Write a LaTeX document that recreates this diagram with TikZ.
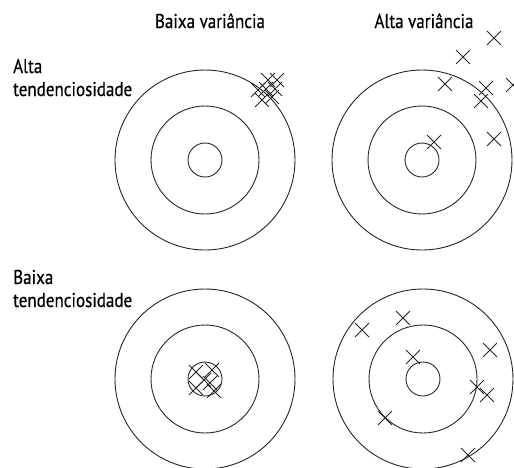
\documentclass[tikz,border=0pt]{standalone}
\usepackage{fontspec}
\setmainfont[FakeStretch=0.85, FakeBold=0.4]{PT Sans}
\usetikzlibrary{shapes.misc}
\tikzset{
  ring/.style={line width=0.9pt, draw=black!85},
  hit/.style={cross out, draw=black!85, line width=0.9pt, minimum size=13pt, inner sep=0pt},
  lbl/.style={font=\fontsize{20}{23}\selectfont, inner sep=0pt}
}

\begin{document}
\begin{tikzpicture}[x=1pt, y=-1pt]
\useasboundingbox (0,0) rectangle (514,467);
% headings
\node[lbl, anchor=base] (lowvar) at (210,28) {Baixa variância};
\node[lbl, anchor=base] (highvar) at (424,28) {Alta variância};
\node[lbl, anchor=base west] (highbias1) at (13,73) {Alta};
\node[lbl, anchor=base west] (highbias2) at (13,96) {tendenciosidade};
\node[lbl, anchor=base west] (lowbias1) at (13,284) {Baixa};
\node[lbl, anchor=base west] (lowbias2) at (13,307) {tendenciosidade};
% targets
\coordinate (tl) at (205,160);
\coordinate (tr) at (422,160);
\coordinate (bl) at (205,379);
\coordinate (br) at (423,379);
\foreach \c in {tl,tr,bl,br} {
  \draw[ring] (\c) circle[radius=90pt];
  \draw[ring] (\c) circle[radius=54pt];
  \draw[ring] (\c) circle[radius=17pt];
}
% top left: high bias, low variance
\node[hit] (a1) at (258,90) {};
\node[hit] (a2) at (268,80) {};
\node[hit] (a3) at (275,89) {};
\node[hit] (a4) at (262,100) {};
\node[hit] (a5) at (272,97) {};
\node[hit] (a6) at (266,89) {};
\node[hit] (a7) at (277,80) {};
% top right: high bias, high variance
\node[hit] (b1) at (494,38) {};
\node[hit] (b2) at (463,57) {};
\node[hit] (b3) at (445,84) {};
\node[hit] (b4) at (486,88) {};
\node[hit] (b5) at (481,101) {};
\node[hit] (b6) at (513,85) {};
\node[hit] (b7) at (494,139) {};
\node[hit] (b8) at (434,142) {};
% bottom left: low bias, low variance
\node[hit] (c1) at (196,372) {};
\node[hit] (c2) at (212,370) {};
\node[hit] (c3) at (204,380) {};
\node[hit] (c4) at (196,388) {};
\node[hit] (c5) at (214,391) {};
\node[hit] (c6) at (210,383) {};
% bottom right: low bias, high variance
\node[hit] (d1) at (403,318) {};
\node[hit] (d2) at (362,330) {};
\node[hit] (d3) at (490,350) {};
\node[hit] (d4) at (413,357) {};
\node[hit] (d5) at (477,387) {};
\node[hit] (d6) at (487,395) {};
\node[hit] (d7) at (385,418) {};
\node[hit] (d8) at (468,455) {};
\end{tikzpicture}
\end{document}
